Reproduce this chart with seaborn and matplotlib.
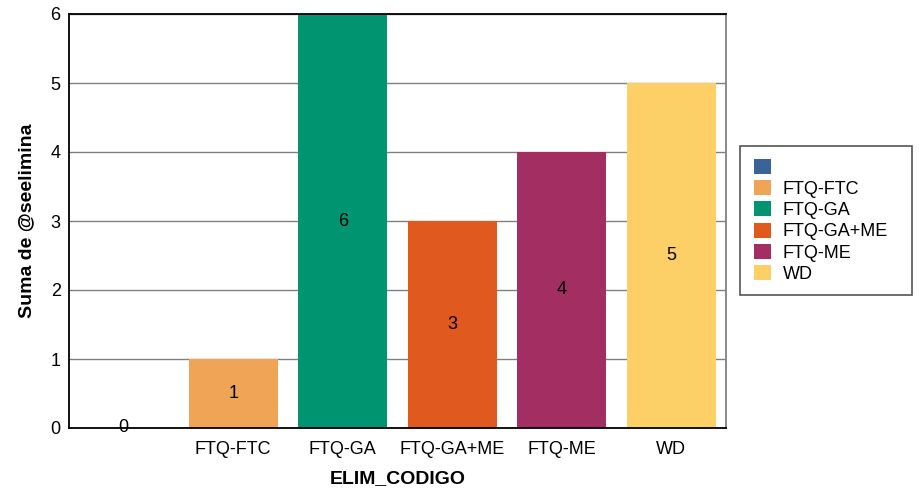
import matplotlib
matplotlib.use("Agg")
import matplotlib.pyplot as plt
import seaborn as sns
import pandas as pd
from matplotlib.patches import Patch, Rectangle

categories = ["", "FTQ-FTC", "FTQ-GA", "FTQ-GA+ME", "FTQ-ME", "WD"]
values = [0, 1, 6, 3, 4, 5]
colors = ["#3A6398", "#F0A455", "#009470", "#E0591F", "#A32E62", "#FDD067"]

sns.set_theme(style="white")
plt.rcParams['font.family'] = ['Liberation Sans', 'DejaVu Sans']

df = pd.DataFrame({"ELIM_CODIGO": categories, "val": values})

fig = plt.figure(figsize=(9.2, 4.88), dpi=100)
ax = fig.add_axes([69/920, 60/488, (726-69)/920, (428-14)/488])

sns.barplot(data=df, x="ELIM_CODIGO", y="val", hue="ELIM_CODIGO", order=categories,
            hue_order=categories, palette=colors, dodge=False, width=0.81,
            legend=False, ax=ax, saturation=1, linewidth=0, edgecolor="none")

ax.set_ylim(0, 6)
ax.set_xlim(-0.5, len(categories) - 0.5)
ax.set_yticks(range(0, 7))
ax.yaxis.grid(True, color="#808080", linewidth=1)
ax.set_axisbelow(True)

for cont in ax.containers:
    ax.bar_label(cont, label_type="center", fontsize=13, color="#000000")

ax.tick_params(axis="both", length=0, labelsize=13, colors="#000000")
ax.tick_params(axis="y", pad=6)
ax.tick_params(axis="x", pad=9)

for s in ["left", "bottom", "top"]:
    ax.spines[s].set_color("#000000")
    ax.spines[s].set_linewidth(1.3)
ax.spines["right"].set_color("#808080")
ax.spines["right"].set_linewidth(1.3)

ax.set_xlabel("ELIM_CODIGO", fontsize=14, fontweight="bold", labelpad=9, color="#000000")
ax.set_ylabel("Suma de @seelimina", fontsize=14, fontweight="bold", labelpad=11, color="#000000")

handles = [Patch(facecolor=c, edgecolor="none") for c in colors]
leg = fig.legend(handles, categories, loc="upper left",
                 bbox_to_anchor=(742/920, 1 - 147/488), fontsize=13,
                 frameon=False,
                 handlelength=0.95, handleheight=0.9, handletextpad=0.65,
                 labelspacing=0.2, borderpad=0.65, borderaxespad=0)
for t in leg.get_texts():
    t.set_color("#000000")

frame = Rectangle((740/920, 1 - 295/488), 172/920, 149/488, transform=fig.transFigure,
                  facecolor="white", edgecolor="#555555", linewidth=1.2, zorder=0)
fig.add_artist(frame)

fig.savefig("out.png", dpi=100)
